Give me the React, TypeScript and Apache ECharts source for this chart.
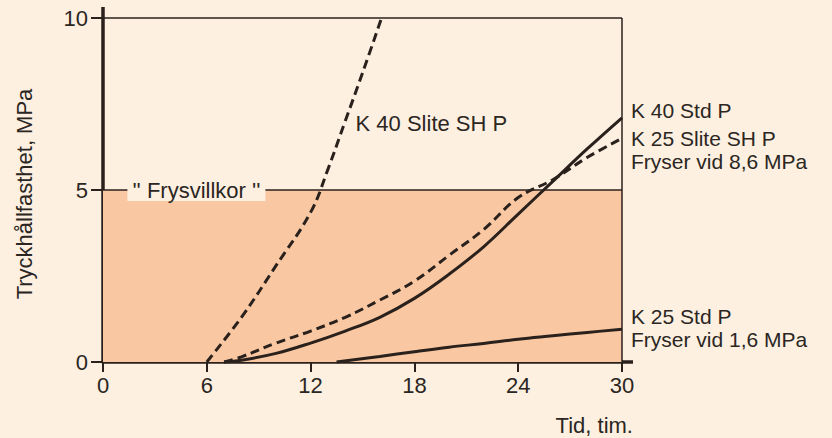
import React, { useEffect, useRef } from "react";
import * as echarts from "echarts";

const xTicks = [0, 6, 12, 18, 24, 30];
const yTicks = [0, 5, 10];

const k40SliteX = [6, 8, 10, 12, 13, 14, 15, 16.1];
const k40SliteY = [0, 1.3, 2.8, 4.35, 5.6, 7.0, 8.4, 10];

const k40StdX = [7, 8, 10, 12, 14, 16, 18, 20, 22, 24, 26, 28, 30];
const k40StdY = [0, 0.05, 0.25, 0.55, 0.9, 1.3, 1.85, 2.55, 3.35, 4.3, 5.25, 6.2, 7.1];

const k25SliteX = [7, 8, 10, 12, 14, 16, 18, 20, 22, 24, 26, 28, 30];
const k25SliteY = [0, 0.15, 0.55, 0.9, 1.3, 1.8, 2.35, 3.1, 3.85, 4.78, 5.3, 5.95, 6.5];

const k25StdX = [13.5, 16, 18, 20, 22, 24, 26, 28, 30];
const k25StdY = [0, 0.16, 0.3, 0.43, 0.54, 0.66, 0.76, 0.86, 0.95];

const freezeLimit = 5;

const CREAM = "#fdf0e1";
const PEACH = "#f9c8a3";
const INK = "#2a211c";
const TEXT = "#2b2622";
const FONT = "'Liberation Sans', Arial, Helvetica, sans-serif";

const pairs = (xs: number[], ys: number[]) => xs.map((x, i) => [x, ys[i]]);

export default function App() {
  const ref = useRef<HTMLDivElement>(null);
  useEffect(() => {
    document.body.style.margin = "0";
    if (!ref.current) return;
    const chart = echarts.init(ref.current, undefined, { renderer: "svg" });
    const lineBase = (name: string, data: number[][], dashed: boolean) => ({
      name,
      type: "line",
      data,
      showSymbol: false,
      symbol: "none",
      smooth: 0.4,
      z: 5,
      clip: false,
      lineStyle: { color: INK, width: 3, type: dashed ? [9, 5] : "solid" },
    });
    chart.setOption({
      animation: false,
      backgroundColor: CREAM,
      grid: { left: 103, right: 210, top: 18, bottom: 76, containLabel: false },
      xAxis: {
        type: "value",
        min: 0,
        max: 30,
        interval: 6,
        axisLine: { show: true, lineStyle: { color: INK, width: 3.5 } },
        axisTick: { show: true, length: 10, lineStyle: { color: INK, width: 2 } },
        axisLabel: {
          margin: 12,
          color: TEXT,
          fontSize: 22,
          fontFamily: FONT,
          formatter: (v: number) => (xTicks.includes(v) ? String(v) : ""),
        },
        splitLine: { show: false },
      },
      yAxis: {
        type: "value",
        min: 0,
        max: 10,
        interval: 5,
        axisLine: { show: true, lineStyle: { color: INK, width: 3.5 } },
        axisTick: { show: true, length: 12, lineStyle: { color: INK, width: 2 } },
        axisLabel: {
          margin: 15,
          color: TEXT,
          fontSize: 22,
          fontFamily: FONT,
          formatter: (v: number) => (yTicks.includes(v) ? String(v) : ""),
        },
        splitLine: { show: false },
      },
      series: [
        {
          name: "frame",
          type: "line",
          data: [],
          z: 1,
          markArea: {
            silent: true,
            itemStyle: { color: PEACH, opacity: 1 },
            data: [[{ yAxis: 0 }, { yAxis: freezeLimit }]],
          },
          markLine: {
            silent: true,
            symbol: "none",
            label: { show: false },
            lineStyle: { color: INK, width: 1.5, type: "solid" },
            data: [{ yAxis: freezeLimit }, { yAxis: 10 }, { xAxis: 30 }],
          },
        },
        lineBase("K 40 Slite SH P", pairs(k40SliteX, k40SliteY), true),
        lineBase("K 40 Std P", pairs(k40StdX, k40StdY), false),
        lineBase("K 25 Slite SH P", pairs(k25SliteX, k25SliteY), true),
        lineBase("K 25 Std P", pairs(k25StdX, k25StdY), false),
      ],
    });

    const px = (x: number, y: number) =>
      chart.convertToPixel({ gridIndex: 0 }, [x, y]) as number[];
    const [x0, y0] = px(0, 0);
    const [x30, y10] = px(30, 10);
    const yMid = px(0, 5)[1];
    const txt = (text: string, x: number, y: number, align = "left", extra: any = {}) => ({
      type: "text",
      x,
      y,
      z: 20,
      style: {
        text,
        fill: TEXT,
        font: `22px ${FONT}`,
        align,
        verticalAlign: "middle",
        ...extra,
      },
    });
    const lbl = (text: string, yv: number) =>
      txt(text, x30 + 9, px(30, yv)[1], "left", { font: `21px ${FONT}` });
    const sl = px(14.6, 6.93);
    const fr = px(5.4, freezeLimit);

    chart.setOption({
      graphic: [
        {
          type: "line",
          z: 10,
          shape: { x1: x30, y1: y0, x2: x30 + 11, y2: y0 },
          style: { stroke: INK, lineWidth: 3.5 },
        },
        {
          type: "line",
          z: 10,
          shape: { x1: x0, y1: y10, x2: x0, y2: y10 - 11 },
          style: { stroke: INK, lineWidth: 3.5 },
        },
        txt("K 40 Slite SH P", sl[0], sl[1]),
        {
          ...txt("'' Frysvillkor ''", fr[0], fr[1], "center", {
            backgroundColor: CREAM,
            padding: [0, 5, 0, 5],
          }),
        },
        lbl("K 40 Std P", 7.3),
        lbl("K 25 Slite SH P", 6.5),
        lbl("Fryser vid 8,6 MPa", 5.82),
        lbl("K 25 Std P", 1.33),
        lbl("Fryser vid 1,6 MPa", 0.66),
        txt("Tid, tim.", x30 + 11, y0 + 63, "right"),
        {
          type: "text",
          x: 24,
          y: yMid + 4,
          rotation: Math.PI / 2,
          z: 20,
          style: {
            text: "Tryckhållfasthet, MPa",
            fill: TEXT,
            font: `22px ${FONT}`,
            align: "center",
            verticalAlign: "middle",
          },
        },
      ],
    });
    return () => chart.dispose();
  }, []);
  return <div ref={ref} style={{ width: 832, height: 438 }} />;
}
